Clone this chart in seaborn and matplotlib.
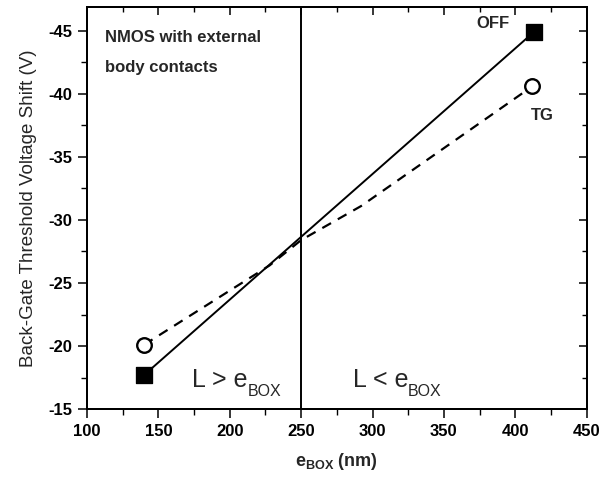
import matplotlib
matplotlib.use("Agg")
import matplotlib.pyplot as plt
import seaborn as sns
import pandas as pd
from matplotlib.ticker import MultipleLocator


# ==========================================
# DATA
# ==========================================

off_ebox = [140, 413]
off_shift = [-17.7, -44.9]

tg_ebox = [140, 228, 250, 292, 412]
tg_shift = [-20.1, -26.4, -28.4, -31.1, -40.6]

tg_marker_ebox = [140, 412]
tg_marker_shift = [-20.1, -40.6]

boundary_ebox = 250

x_ticks = [100, 150, 200, 250, 300, 350, 400, 450]
y_ticks = [-15, -20, -25, -30, -35, -40, -45]


# ==========================================
# STYLE
# ==========================================

sns.set_style("ticks")

plt.rcParams["font.family"] = ["Liberation Sans", "DejaVu Sans"]
plt.rcParams["axes.unicode_minus"] = False
plt.rcParams["mathtext.fontset"] = "custom"
plt.rcParams["mathtext.rm"] = "Liberation Sans"
plt.rcParams["mathtext.it"] = "Liberation Sans"
plt.rcParams["mathtext.bf"] = "Liberation Sans:bold"

fig = plt.figure(figsize=(6.08, 4.83), dpi=100)
ax = fig.add_axes([0.143, 0.153, 0.822, 0.833])

off_df = pd.DataFrame({"ebox": off_ebox, "shift": off_shift})
tg_df = pd.DataFrame({"ebox": tg_ebox, "shift": tg_shift})
tg_mk = pd.DataFrame({"ebox": tg_marker_ebox, "shift": tg_marker_shift})


# ==========================================
# LINES AND MARKERS
# ==========================================

sns.lineplot(
    data=off_df, x="ebox", y="shift",
    color="black", linewidth=1.4, ax=ax
)

sns.lineplot(
    data=tg_df, x="ebox", y="shift",
    color="black", linewidth=1.6, ax=ax
)
ax.lines[-1].set_dashes([4.5, 3.5])

ax.axvline(boundary_ebox, color="black", linewidth=1.4)

sns.scatterplot(
    data=off_df, x="ebox", y="shift",
    marker="s", s=140, color="black",
    edgecolor="black", zorder=5, ax=ax
)

sns.scatterplot(
    data=tg_mk, x="ebox", y="shift",
    marker="o", s=110, facecolor="white",
    edgecolor="black", linewidth=1.7, zorder=5, ax=ax
)


# ==========================================
# AXES
# ==========================================

ax.set_xlim(100, 450)
ax.set_ylim(-15, -46.9)

ax.set_xticks(x_ticks)
ax.set_yticks(y_ticks)
ax.xaxis.set_minor_locator(MultipleLocator(25))
ax.yaxis.set_minor_locator(MultipleLocator(2.5))

ax.tick_params(which="both", direction="out", colors="black",
               top=False, right=False)
ax.tick_params(which="major", length=6.5, width=1.1, labelsize=12, pad=4)
ax.tick_params(which="minor", length=4, width=1.0)

for label in ax.get_xticklabels() + ax.get_yticklabels():
    label.set_fontweight("bold")

# top and right: inward ticks, no labels
ax_top = ax.twiny()
ax_top.set_xlim(ax.get_xlim())
ax_top.set_xticks(x_ticks)
ax_top.xaxis.set_minor_locator(MultipleLocator(25))
ax_top.tick_params(which="both", direction="in", top=True,
                   labeltop=False, colors="black")
ax_top.tick_params(which="major", length=6, width=1.1)
ax_top.tick_params(which="minor", length=3.5, width=1.0)

ax_right = ax.twinx()
ax_right.set_ylim(ax.get_ylim())
ax_right.set_yticks(y_ticks)
ax_right.yaxis.set_minor_locator(MultipleLocator(2.5))
ax_right.tick_params(which="both", direction="in", right=True,
                     labelright=False, colors="black")
ax_right.tick_params(which="major", length=6, width=1.1)
ax_right.tick_params(which="minor", length=3.5, width=1.0)

for a in (ax, ax_top, ax_right):
    for spine in a.spines.values():
        spine.set_linewidth(1.4)
        spine.set_color("black")

ax.set_xlabel(r"e$_{\mathbf{BOX}}$ (nm)", fontsize=13,
              fontweight="bold", labelpad=9)
ax.set_ylabel("Back-Gate Threshold Voltage Shift (V)", fontsize=13.5,
              labelpad=8)


# ==========================================
# ANNOTATIONS
# ==========================================

ax.text(112.6, -44.13, "NMOS with external",
        fontsize=12, fontweight="bold", va="baseline")
ax.text(112.6, -41.75, "body contacts",
        fontsize=12, fontweight="bold", va="baseline")

ax.text(373, -45.24, "OFF", fontsize=12, fontweight="bold",
        va="baseline")
ax.text(411, -37.94, "TG", fontsize=12, fontweight="bold",
        va="baseline")

ax.text(173.5, -16.75, "L > e", fontsize=18, va="baseline")
ax.text(212.5, -16.05, "BOX", fontsize=11.5, va="baseline")
ax.text(286.2, -16.75, "L < e", fontsize=18, va="baseline")
ax.text(324.5, -16.05, "BOX", fontsize=11.5, va="baseline")

fig.savefig("out.png", dpi=100)
